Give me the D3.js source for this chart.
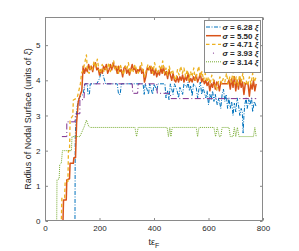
<!DOCTYPE html>
<html><head><meta charset="utf-8">
<script src="https://cdn.jsdelivr.net/npm/d3@7"></script>
<style>body{margin:0;background:#fff}svg{display:block}text{font-family:"Liberation Sans",Arial,sans-serif;fill:#262626}</style>
</head><body>
<script>
const xTicks = [0, 200, 400, 600, 800];
const yTicks = [0, 1, 2, 3, 4, 5];
const seriesNames = ["6.28", "5.50", "4.71", "3.93", "3.14"];

const blueData = [[0,0],[110,0],[111,2.4],[114,2.9],[118,3.25],[125,3.5],[140,3.6],[146,3.9],[155,3.9],[158,3.6],[163,3.6],[166,3.9],[190,3.9],[200,4.05],[208,4.3],[215,4.1],[222,3.9],[265,3.9],[270,3.6],[276,3.6],[280,3.9],[360,3.9],[364,3.6],[368,3.9],[380,3.6],[384,3.9],[395,3.6],[400,3.9],[410,3.7],[415,3.9],[440,3.9],[444,3.5],[450,3.7],[455,3.45],[460,3.9],[470,3.6],[475,3.9],[485,3.7],[490,3.5],[495,3.8],[505,3.6],[510,3.9],[520,3.8],[525,3.95],[530,3.7],[535,3.85],[540,3.55],[545,3.9],[555,3.8],[560,3.5],[565,3.75],[570,3.95],[575,3.6],[580,3.8],[590,3.5],[595,3.7],[600,3.3],[605,3.6],[610,3.45],[615,3.7],[620,3.4],[625,3.6],[632,3.3],[638,3.5],[645,3.2],[650,3.6],[655,3.75],[660,3.4],[665,3.6],[670,3.2],[675,3.5],[680,3.2],[685,3.4],[690,3.0],[695,3.35],[700,3.1],[705,3.5],[710,3.3],[715,3.0],[720,3.2],[724,3.1],[727,2.5],[730,3.0],[733,3.3],[738,3.5],[742,3.2],[748,3.45],[752,3.3],[758,3.5],[762,3.1],[768,3.4],[775,3.25]];

const orangeData = [[0,0],[66,0],[68,0.6],[78,0.6],[80,1.17],[90,1.2],[92,1.64],[104,1.64],[106,1.8],[112,1.8],[116,2.8],[122,3.39],[130,3.6],[135,3.7],[140,4.4],[145,4.2],[150,4.35],[155,4.25],[160,4.45],[165,4.3],[170,4.4],[175,4.25],[180,4.45],[185,4.5],[190,4.3],[195,4.35],[200,4.15],[205,4.3],[210,4.2],[215,4.4],[220,4.3],[225,4.45],[230,4.2],[235,4.3],[240,4.45],[245,4.3],[250,4.5],[255,4.35],[260,4.4],[265,4.2],[270,4.4],[275,4.25],[280,4.3],[285,4.1],[290,4.35],[295,4.4],[300,4.2],[305,4.3],[310,4.15],[315,4.3],[320,4.45],[325,4.3],[330,4.35],[335,4.2],[340,4.3],[345,4.25],[350,4.4],[355,4.2],[360,4.3],[365,3.95],[370,4.1],[375,4.35],[380,4.3],[385,4.4],[390,4.2],[395,4.35],[400,4.15],[405,4.3],[410,4.1],[415,4.25],[420,4.15],[425,4.35],[430,4.2],[435,4.4],[440,4.15],[445,4.25],[450,4.05],[455,4.3],[460,4.15],[465,4.0],[470,4.2],[475,4.0],[480,3.95],[485,4.1],[490,3.95],[495,4.1],[500,4.0],[505,4.15],[510,3.95],[515,4.1],[520,4.0],[525,4.2],[530,3.95],[535,4.05],[540,3.95],[545,4.1],[550,4.0],[555,4.15],[560,3.95],[565,4.05],[570,4.2],[575,3.95],[580,4.05],[585,3.9],[590,4.0],[595,3.85],[600,3.95],[605,3.7],[610,3.9],[615,3.8],[620,4.0],[625,3.75],[630,3.95],[635,3.9],[640,3.7],[645,3.95],[650,3.9],[670,3.9],[675,4.0],[680,3.75],[685,4.05],[690,3.8],[695,4.1],[700,3.7],[705,4.0],[710,3.75],[715,4.05],[720,3.8],[725,3.95],[730,3.6],[735,3.9],[745,3.9],[750,3.55],[755,3.9],[760,3.75],[765,4.0],[770,3.7],[775,3.9]];

const yellowData = [[0,0],[60,0],[62,0.66],[72,0.66],[74,1.12],[84,1.12],[86,2.0],[90,2.0],[92,2.87],[102,3.0],[104,3.44],[118,3.5],[122,3.63],[130,3.9],[134,4.2],[140,4.3],[146,4.5],[152,4.72],[156,4.25],[162,4.2],[168,4.4],[174,4.3],[180,4.55],[186,4.35],[192,4.6],[198,4.3],[204,4.2],[210,4.45],[216,4.25],[222,4.35],[228,4.3],[234,4.5],[240,4.25],[246,4.4],[252,4.55],[258,4.3],[264,4.4],[270,4.2],[276,4.45],[282,4.3],[288,4.15],[294,4.4],[300,4.3],[306,4.5],[312,4.2],[318,4.35],[324,4.25],[330,4.45],[336,4.3],[342,4.2],[348,4.35],[354,4.5],[360,4.25],[366,4.1],[372,4.3],[378,4.45],[384,4.3],[390,4.4],[396,4.2],[402,4.5],[408,4.3],[414,4.2],[420,4.4],[426,4.3],[432,4.55],[438,4.2],[444,4.35],[450,4.15],[456,4.4],[462,4.2],[468,4.3],[474,4.1],[480,4.0],[486,4.3],[492,4.15],[498,4.4],[504,4.2],[510,4.35],[516,4.1],[522,4.3],[528,4.0],[534,4.25],[540,4.1],[546,4.35],[552,4.0],[558,4.2],[564,4.4],[570,4.1],[576,4.25],[582,4.0],[588,4.2],[594,3.95],[600,4.1],[606,3.9],[612,4.15],[618,4.0],[624,3.85],[630,3.72],[636,3.95],[642,4.1],[648,3.9],[654,4.05],[660,3.95],[666,4.2],[672,3.9],[678,4.1],[684,3.95],[690,4.25],[696,3.9],[702,4.1],[708,3.85],[714,4.15],[720,3.95],[726,4.2],[732,3.9],[738,4.0],[744,3.85],[750,4.1],[756,3.9],[762,4.2],[768,3.95],[775,4.1]];

const purpleData = [[62,2.4],[80,2.4],[80,2.82],[110,2.82],[112,3.05],[128,3.05],[128,3.45],[143,3.45],[146,3.9],[320,3.9],[322,3.63],[340,3.63],[342,3.9],[410,3.9],[412,3.63],[460,3.63],[462,3.48],[775,3.48]];

const greenData = [[0,0],[43,0],[44,1.17],[52,1.2],[54,1.6],[60,1.65],[64,2.0],[97,2.0],[99,2.4],[128,2.4],[145,2.7],[152,2.87],[160,2.7],[165,2.66],[330,2.66],[336,2.4],[342,2.66],[448,2.66],[453,2.4],[458,2.66],[462,2.4],[467,2.66],[555,2.66],[560,2.4],[565,2.66],[620,2.66],[626,2.4],[632,2.66],[640,2.4],[645,2.4],[650,2.66],[675,2.66],[680,2.4],[690,2.4],[695,2.66],[700,2.4],[706,2.66],[712,2.4],[765,2.4],[770,2.66],[775,2.4]];

const W = 299, H = 251;
const m = {l: 45, r: 263, t: 17, b: 221};
const svg = d3.select("body").append("svg").attr("width", W).attr("height", H);
const x = d3.scaleLinear().domain([0, 800]).range([m.l, m.r]);
const y = d3.scaleLinear().domain([0, 5.8]).range([m.b, m.t]);

const clip = svg.append("clipPath").attr("id", "c").append("rect")
  .attr("x", m.l).attr("y", m.t).attr("width", m.r - m.l).attr("height", m.b - m.t);

const line = d3.line().x(d => x(d[0])).y(d => y(d[1]));
const styles = [
  {data: blueData, color: "#0072BD", w: 1, dash: "4,1.5,1,1.5"},
  {data: orangeData, color: "#D95319", w: 1.5, dash: null},
  {data: yellowData, color: "#EDB120", w: 1.3, dash: "3.5,2.5"},
  {data: purpleData, color: "#7E2F8E", w: 1, dash: "6,2.5,1,2.5"},
  {data: greenData, color: "#77AC30", w: 1, dash: "1,1"}
];
const g = svg.append("g").attr("clip-path", "url(#c)");
// draw order: later series on top (MATLAB order)
styles.forEach(s => {
  g.append("path").datum(s.data).attr("d", line).attr("fill", "none")
    .attr("stroke", s.color).attr("stroke-width", s.w)
    .attr("stroke-dasharray", s.dash).attr("stroke-linejoin", "round");
});

// axes box
const ax = "#8a8a8a";
svg.append("rect").attr("x", m.l + 0.5).attr("y", m.t + 0.5)
  .attr("width", m.r - m.l - 1).attr("height", m.b - m.t - 1)
  .attr("fill", "none").attr("stroke", ax).attr("stroke-width", 1);

const xb = svg.append("g").attr("transform", `translate(0,${m.b - 0.5})`)
  .call(d3.axisBottom(x).tickValues(xTicks).tickSize(-2.5).tickPadding(5).tickFormat(d3.format("d")));
const xt = svg.append("g").attr("transform", `translate(0,${m.t + 0.5})`)
  .call(d3.axisTop(x).tickValues(xTicks).tickSize(-2.5).tickFormat(""));
const yl = svg.append("g").attr("transform", `translate(${m.l + 0.5},0)`)
  .call(d3.axisLeft(y).tickValues(yTicks).tickSize(-2.5).tickPadding(5).tickFormat(d3.format("d")));
const yr = svg.append("g").attr("transform", `translate(${m.r - 0.5},0)`)
  .call(d3.axisRight(y).tickValues(yTicks).tickSize(-2.5).tickFormat(""));
[xb, xt, yl, yr].forEach(a => {
  a.select(".domain").remove();
  a.selectAll(".tick line").attr("stroke", ax);
  a.selectAll("text").style("font-size", "8px").attr("fill", "#262626");
});

// labels
const xl = svg.append("text").attr("x", 154).attr("y", 245).attr("text-anchor", "middle")
  .style("font-size", "9px");
xl.append("tspan").text("tε");
xl.append("tspan").attr("dy", 3).style("font-size", "7px").text("F");

const ylab = svg.append("text").attr("transform", `translate(31,${(m.t + m.b) / 2}) rotate(-90)`)
  .attr("text-anchor", "middle").style("font-size", "9px");
ylab.append("tspan").text("Radius of Nodal Surface (units of ");
ylab.append("tspan").style("font-style", "italic").text("ξ");
ylab.append("tspan").text(")");

// legend
const lg = svg.append("g");
lg.append("rect").attr("x", 204.5).attr("y", 20.5).attr("width", 56).attr("height", 52)
  .attr("fill", "#fff").attr("stroke", ax);
styles.forEach((s, i) => {
  const yy = 27 + i * 8.7;
  if (i === 3) {
    lg.append("circle").attr("cx", 213.5).attr("cy", yy).attr("r", 0.6).attr("fill", s.color);
  } else {
    lg.append("line").attr("x1", 206).attr("x2", 221).attr("y1", yy).attr("y2", yy)
      .attr("stroke", s.color).attr("stroke-width", s.w).attr("stroke-dasharray", s.dash);
  }
  const t = lg.append("text").attr("x", 222.5).attr("y", yy + 3).style("font-size", "8px")
    .style("font-weight", "bold");
  t.append("tspan").style("font-style", "italic").text("σ");
  t.append("tspan").text(" = " + seriesNames[i] + " ");
  t.append("tspan").style("font-style", "italic").text("ξ");
});
</script>
</body></html>
